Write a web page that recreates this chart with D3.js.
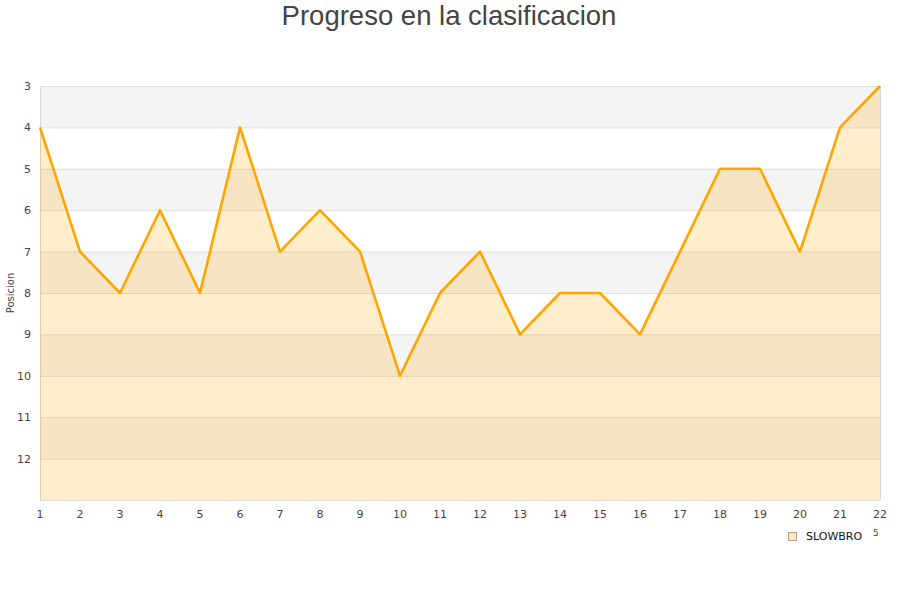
<!DOCTYPE html>
<html>
<head>
<meta charset="utf-8">
<script src="https://cdn.jsdelivr.net/npm/d3@7"></script>
<style>
body{margin:0;background:#fff;}
svg{display:block;font-family:"DejaVu Sans",sans-serif;}
</style>
</head>
<body>
<svg id="c" width="900" height="600"></svg>
<script>
const title = "Progreso en la clasificacion";
const yTitle = "Posicion";
const seriesName = "SLOWBRO";
const jornadas = [1,2,3,4,5,6,7,8,9,10,11,12,13,14,15,16,17,18,19,20,21,22];
const posiciones = [4,7,8,6,8,4,7,6,7,10,8,7,9,8,8,9,7,5,5,7,4,3];
const yTicks = [3,4,5,6,7,8,9,10,11,12];
const yDomain = [3,13];

const svg = d3.select("#c");
const m = {l:40, r:20, t:86, b:100};
const W = 900, H = 600;
const x = d3.scaleLinear().domain([1,22]).range([m.l, W-m.r]);
const y = d3.scaleLinear().domain(yDomain).range([m.t, H-m.b]);

// bands
const bands = d3.range(yDomain[0], yDomain[1]);
svg.append("g").selectAll("rect").data(bands).join("rect")
  .attr("x", x(1)).attr("width", x(22)-x(1))
  .attr("y", d=>y(d)).attr("height", d=>y(d+1)-y(d))
  .attr("fill", d=> (d-3)%2===0 ? "#f4f4f4" : "#ffffff");

// grid lines
svg.append("g").selectAll("line").data(d3.range(yDomain[0], yDomain[1]+1)).join("line")
  .attr("x1", x(1)).attr("x2", x(22))
  .attr("y1", d=>y(d)+0.5).attr("y2", d=>y(d)+0.5)
  .attr("stroke", "#dddddd").attr("stroke-width", 1);

// border left/right
svg.append("line").attr("x1", x(1)+0.5).attr("x2", x(1)+0.5).attr("y1", y(3)).attr("y2", y(13))
  .attr("stroke","#d8d8d8");
svg.append("line").attr("x1", x(22)+0.5).attr("x2", x(22)+0.5).attr("y1", y(3)).attr("y2", y(13))
  .attr("stroke","#d8d8d8");

const pts = jornadas.map((j,i)=>[j, posiciones[i]]);
const area = d3.area().x(d=>x(d[0])).y0(y(13)).y1(d=>y(d[1]));
svg.append("path").datum(pts).attr("d", area)
  .attr("fill", "#ffa500").attr("fill-opacity", 0.2);
const line = d3.line().x(d=>x(d[0])).y(d=>y(d[1]));
svg.append("path").datum(pts).attr("d", line)
  .attr("fill","none").attr("stroke","#ffa500").attr("stroke-width",2.6)
  .attr("stroke-linejoin","round");

// y ticks
svg.append("g").selectAll("text").data(yTicks).join("text")
  .attr("x", 31).attr("y", d=>y(d)+4)
  .attr("text-anchor","end").attr("font-size", 11).attr("fill","#444")
  .text(d=>d);

// x ticks
svg.append("g").selectAll("text").data(jornadas).join("text")
  .attr("x", d=>x(d)).attr("y", 518)
  .attr("text-anchor","middle").attr("font-size", 11).attr("fill","#444")
  .text(d=>d);

// y title
svg.append("text").attr("transform","translate(14,293) rotate(-90)")
  .attr("text-anchor","middle").attr("font-size",10).attr("fill","#444").text(yTitle);

// title
svg.append("text").attr("x", 449).attr("y", 25).attr("text-anchor","middle")
  .attr("font-family","Liberation Sans, Arial, sans-serif")
  .attr("font-size", 27.5).attr("fill","#444").text(title);

// legend
svg.append("rect").attr("x", 788.5).attr("y", 532.5).attr("width", 8).attr("height", 8)
  .attr("fill","#ffe8c0").attr("stroke","#b0a080").attr("stroke-width",1);
svg.append("text").attr("x", 806).attr("y", 540).attr("font-size", 11).attr("fill","#111").text(seriesName);

// clipped axis-title remnant
svg.append("text").attr("x", 873).attr("y", 536).attr("font-size", 9).attr("fill","#444").text("5");
</script>
</body>
</html>
